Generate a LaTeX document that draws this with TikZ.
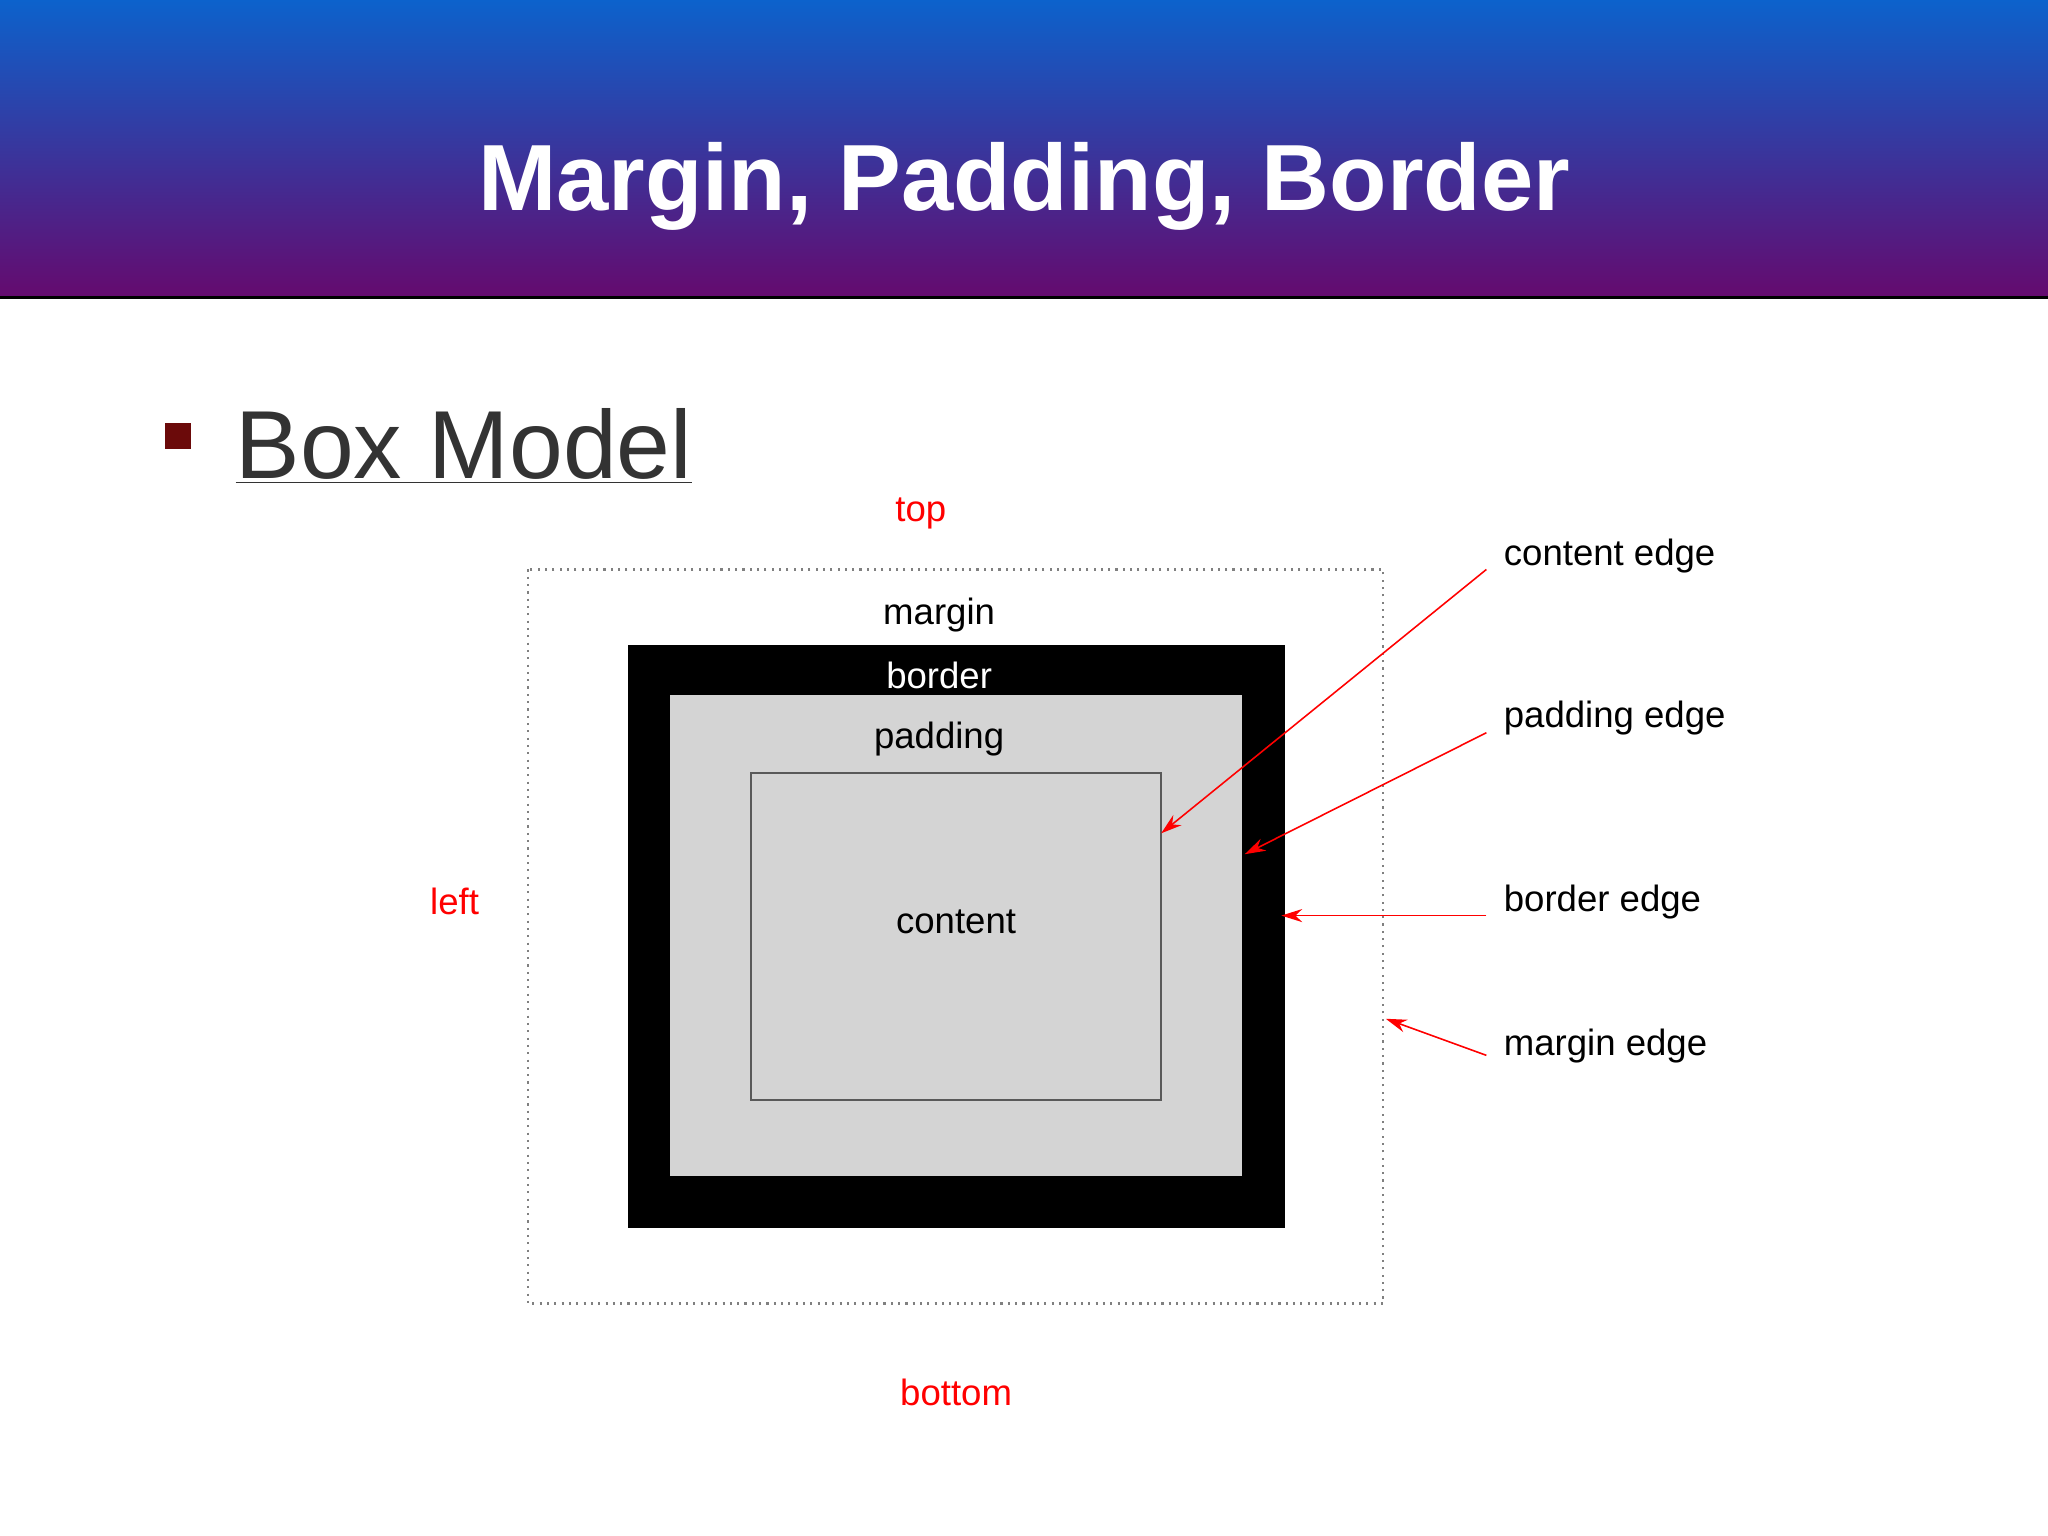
\documentclass[tikz,border=0pt]{standalone}
\usepackage{fontspec}
\setmainfont{Liberation Sans}
\usetikzlibrary{arrows.meta}
\definecolor{topblue}{HTML}{0C62CC}
\definecolor{botpurple}{HTML}{650A6E}
\definecolor{padgray}{HTML}{D4D4D4}
\definecolor{bulletred}{HTML}{6B0A0A}
\tikzset{lbl/.style={font=\fontsize{14}{16}\selectfont, inner sep=0pt},
redlbl/.style={lbl, text=red},
edgearrow/.style={draw=red, line width=0.6pt, -{Stealth[length=8pt,width=5pt]}}}
\begin{document}
\begin{tikzpicture}[x=0.5pt,y=-0.5pt]
\useasboundingbox (0,0) rectangle (1568,1176);
\fill[white] (0,0) rectangle (1568,1176);
\shade[top color=topblue, bottom color=botpurple] (0,0) rectangle (1568,228);
\draw[line width=1pt] (0,228) -- (1568,228);
\node[text=white, font=\fontsize{36}{40}\selectfont\bfseries] (title) at (784,143) {Margin, Padding, Border};
\fill[bulletred] (126,324) rectangle (146,344);
\node[anchor=base west, inner sep=0pt, text=black!80, font=\fontsize{37}{40}\selectfont] (bm) at (180,366) {\underline{Box Model}};
\draw[gray, dotted, line width=0.8pt] (404,436) rectangle (1059,998);
\fill[black] (481,494) rectangle (984,940);
\fill[padgray] (513,532) rectangle (951,900);
\draw[gray!70!black, line width=0.8pt] (575,592) rectangle (889,842);
\node[redlbl] (top) at (705,393) {top};
\node[redlbl] (left) at (348,690) {left};
\node[redlbl] (bottom) at (732,1066) {bottom};
\node[lbl] (margin) at (719,471) {margin};
\node[lbl, text=white] (border) at (719,517) {border};
\node[lbl] (padding) at (719,566) {padding};
\node[lbl] (content) at (732,706) {content};
\node[lbl, anchor=west] (ce) at (1151,426) {content edge};
\node[lbl, anchor=west] (pe) at (1151,550) {padding edge};
\node[lbl, anchor=west] (be) at (1151,691) {border edge};
\node[lbl, anchor=west] (me) at (1151,801) {margin edge};
\coordinate (c1) at (1138,436); \coordinate (c2) at (889,638);
\coordinate (p1) at (1138,561); \coordinate (p2) at (953,654);
\coordinate (b1) at (1138,701); \coordinate (b2) at (981,701);
\coordinate (m1) at (1138,808); \coordinate (m2) at (1061,780);
\draw[edgearrow] (c1) -- (c2);
\draw[edgearrow] (p1) -- (p2);
\draw[edgearrow] (b1) -- (b2);
\draw[edgearrow] (m1) -- (m2);
\end{tikzpicture}
\end{document}
